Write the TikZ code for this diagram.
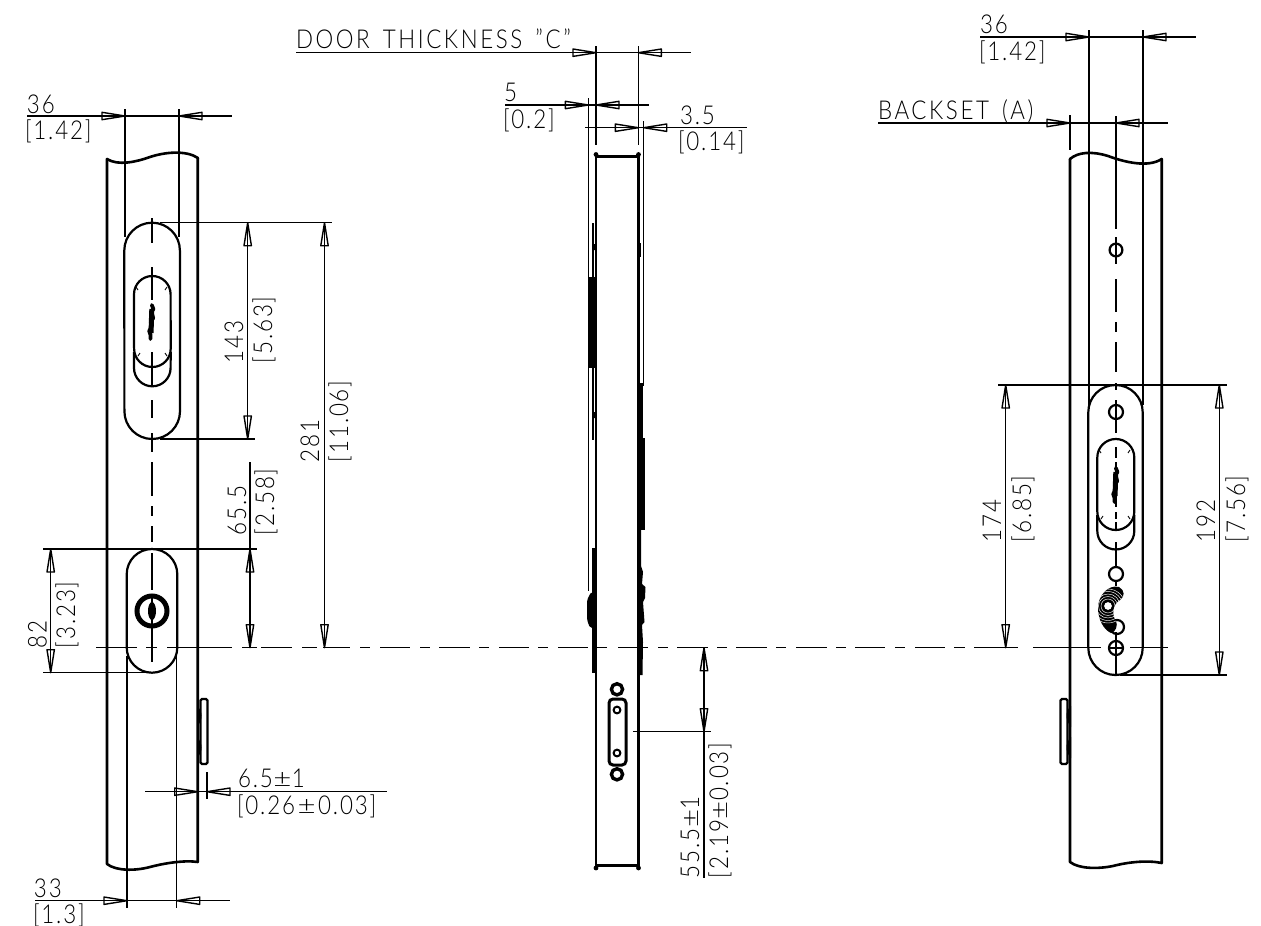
\documentclass[tikz,border=0pt]{standalone}
\usepackage{fontspec}
\usepackage{graphicx}
\newfontfamily\dimf[FakeStretch=0.86,LetterSpace=7]{Lato Light}
\newfontfamily\capf[FakeStretch=0.86,LetterSpace=10,WordSpace=1.5]{Lato Light}
\newcommand{\pmw}{\kern.5pt\scalebox{1.4}[1]{±}\kern.5pt}
\newcommand{\arrR}[2]{\draw[thinl,line join=round] (#1,#2) -- (#1-23,#2-3.7) -- (#1-23,#2+3.7) -- cycle;}
\newcommand{\arrL}[2]{\draw[thinl,line join=round] (#1,#2) -- (#1+23,#2-3.7) -- (#1+23,#2+3.7) -- cycle;}
\newcommand{\arrD}[2]{\draw[thinl,line join=round] (#1,#2) -- (#1-3.7,#2-23) -- (#1+3.7,#2-23) -- cycle;}
\newcommand{\arrU}[2]{\draw[thinl,line join=round] (#1,#2) -- (#1-3.7,#2+23) -- (#1+3.7,#2+23) -- cycle;}
% x left, x right, y top, y bottom, radius (stadium)
\newcommand{\stad}[6][slot]{\draw[#1] (#2,#4+#6) arc[start angle=180,end angle=360,radius=#6] -- (#3,#5-#6) arc[start angle=0,end angle=180,radius=#6] -- cycle;}
\newcommand{\logoblob}[2]{\draw[line width=3.8pt,line cap=round,line join=round] (#1+.8,#2+1) -- (#1+2.4,#2+5) -- (#1+.4,#2+8) -- (#1+2.2,#2+14) -- (#1-.2,#2+18) -- (#1+1,#2+22) -- (#1-1.8,#2+27) -- (#1-.4,#2+31) -- (#1-.6,#2+35);
 \draw[line width=5pt] (#1+.8,#2+5) -- (#1,#2+29);}
\tikzset{
  thinl/.style={line width=1.4pt,line cap=butt},
  slot/.style={line width=2.2pt},
  edge/.style={line width=2.6pt,line cap=round,line join=round},
  txt/.style={inner sep=0pt,outer sep=0pt,font=\dimf\fontsize{26}{26}\selectfont,anchor=base west},
  captxt/.style={txt,font=\capf\fontsize{26}{26}\selectfont},
  rtxt/.style={txt,rotate=90},
  tick/.style={line width=.9pt}
}
\begin{document}
\begin{tikzpicture}[x=1pt,y=-1pt]
\useasboundingbox (0,0) rectangle (1261,926);
%% horizontal centre line
\foreach \a/\b in {96/137,146/157,167/232,242/257,261/292,302/317,323/350,360/370,380/410,420/430,439/470,479/489,499/529,538/548,558/588,597/607,618/648,658/668,677/708,717/727,736/767,776/786,796/827,836/846,855/885,895/905,915/945,954/965,974/1018,1033/1101,1130/1168}
  \draw[thinl] (\a,647.7) -- (\b,647.7);
%%%% LEFT VIEW
\draw[edge] (107,159) .. controls (118,166) and (136,162) .. (150,157) .. controls (165,152) and (186,150) .. (198,158);
\draw[edge] (107,159) -- (107,864) .. controls (116,871) and (135,871) .. (150,867) .. controls (165,863) and (185,860) .. (197.7,862) -- (197.7,158);
\stad{124.3}{180}{222.7}{439}{27.8}
\stad[slot]{134}{170.7}{276}{367}{18.3}
\draw[slot] (134,352) -- (134,368) arc[start angle=180,end angle=0,radius=18.3] -- (170.7,352);
\foreach \a/\b/\c/\d in {136/287/138/290,167/287/165/290,138/356/140/353,167/356/165/353} \draw[tick] (\a,\b) -- (\c,\d);
\logoblob{151}{304}
\foreach \a/\b in {218/243,267/300,352/386,400/418,433/452,462/496,506/516,526/542,553/590,627/662}
  \draw[thinl] (152,\a) -- (152,\b);
\stad[slot]{126.7}{177.3}{549}{672.7}{25.3}
\draw[line width=5pt] (152,611) circle[radius=15];
\fill (152,611) ellipse[x radius=4,y radius=9];
\draw[thinl] (152,595) -- (152,627);
\draw[slot,rounded corners=1.5pt] (200.5,699) rectangle (207.5,764);
\fill (197,706) .. controls (203,711) and (203,720) .. (197,727) -- cycle;
\fill (197,737) .. controls (203,743) and (203,752) .. (197,758) -- cycle;
% dimensions left
\draw[thinl] (27,116) -- (232,116);
\draw[thinl] (125,109) -- (125,237) (179,109) -- (179,237);
\arrR{125}{116}\arrL{179}{116}
\node[txt] (a36) at (27,113) {36};
\node[txt] (a142) at (25,139) {[1.42]};
\draw[thinl] (160,222.7) -- (332,222.7) (160,439) -- (255,439);
\draw[thinl] (247.7,222.7) -- (247.7,439);
\arrU{247.7}{222.7}\arrD{247.7}{439}
\node[rtxt] (a143) at (243,363) {143};
\node[rtxt] (a563) at (272,363) {[5.63]};
\draw[thinl] (324.5,222.7) -- (324.5,647.7);
\arrU{324.5}{222.7}\arrD{324.5}{647.7}
\node[rtxt] (a281) at (319,462) {281};
\node[rtxt] (a1106) at (348,462) {[11.06]};
\draw[thinl] (250,462) -- (250,647.7);
\arrU{250}{549}\arrD{250}{647.7}
\node[rtxt] (a655) at (246,535) {65.5};
\node[rtxt] (a258) at (274,535) {[2.58]};
\draw[thinl] (43,549) -- (257,549) (43,672.7) -- (150,672.7);
\draw[thinl] (50.7,549) -- (50.7,672.7);
\arrU{50.7}{549}\arrD{50.7}{672.7}
\node[rtxt] (a82) at (46.7,648) {82};
\node[rtxt] (a323) at (75,648) {[3.23]};
\draw[thinl] (145,791.7) -- (387,791.7);
\draw[thinl] (207,772) -- (207,799);
\arrR{197.7}{791.7}\arrL{207}{791.7}
\node[txt] (a65) at (238,787) {6.5\pmw 1};
\node[txt] (a026) at (237,814) {[0.26\kern2pt\pmw\kern2pt 0.03]};
\draw[thinl] (35,900.7) -- (230,900.7);
\draw[thinl] (127,656) -- (127,908) (176.7,656) -- (176.7,908);
\arrR{127}{900.7}\arrL{176.7}{900.7}
\node[txt] (a33) at (34,897) {33};
\node[txt] (a13) at (33,923) {[1.3]};
%%%% MIDDLE VIEW
\draw[edge] (596,156) -- (596,866) (638.5,156) -- (638.5,866);
\draw[line width=3pt] (596,156) -- (638.5,156) (596,865) -- (638.5,865);
\fill (596,154.5) circle[radius=2.4] (638.5,154.5) circle[radius=2.4] (596,868) circle[radius=2.4] (638.5,868) circle[radius=2.4];
% left plates
\draw[thinl] (588.4,98) -- (588.4,591);
\draw[line width=2.2pt] (593.2,223) -- (593.2,278);
\fill (589.3,277) rectangle (596,368);
\draw[line width=2.2pt] (593.2,368) -- (593.2,440);
\fill (592,244) rectangle (596,250) (592,412) rectangle (596,418);
\draw[line width=3pt] (593.5,548) -- (593.5,673);
\fill[rounded corners=2pt] (587,600) -- (591,592) -- (594,592) -- (594,628) -- (590,628) -- (587,620) -- cycle;
% right plates
\draw[thinl] (643.7,121) -- (643.7,386);
\fill (638.5,243) rectangle (641,257);
\fill (638.5,383) rectangle (642.8,438);
\fill (638.5,438) rectangle (644.5,530);
\fill (638.5,530) -- (641,530) -- (641,566) -- (643,572) -- (642,584) -- (645.5,587) -- (645,598) -- (643,602) -- (644.5,622) -- (642,625) -- (643,642) -- (642.5,675) -- (638.5,675) -- cycle;
% strike
\draw[line width=3.4pt] (617,689.3) circle[radius=5.6] (617,774.3) circle[radius=5.6];
\draw[line width=3pt,rounded corners=4pt] (609,699) rectangle (626,765);
\draw[line width=2pt] (617,710) circle[radius=3.4] (617,753) circle[radius=3.4];
% dimensions middle
\draw[thinl] (296,52.7) -- (691,52.7);
\draw[thinl] (596,46) -- (596,145) (638.3,46) -- (638.3,145);
\arrR{596}{52.7}\arrL{638.3}{52.7}
\node[captxt] (m1) at (296,48) {DOOR THICKNESS ”C”};
\draw[thinl] (505,105) -- (649,105);
\arrR{588.4}{105}\arrL{596}{105}
\node[txt] (m5) at (504,101) {5};
\node[txt] (m02) at (503,128) {[0.2]};
\draw[thinl] (585,127.7) -- (747,127.7);
\arrR{638.3}{127.7}\arrL{643.7}{127.7}
\node[txt] (m35) at (680,124) {3.5};
\node[txt] (m014) at (678,150) {[0.14]};
\draw[thinl] (633,731.7) -- (711,731.7);
\draw[thinl] (704,647.7) -- (704,878);
\arrU{704}{647.7}\arrD{704}{731.7}
\node[rtxt] (m555) at (699,878) {55.5\pmw 1};
\node[rtxt] (m219) at (728,878) {[2.19\pmw 0.03]};
%%%% RIGHT VIEW
\draw[edge] (1070,159) .. controls (1078,152) and (1092,151) .. (1108,156) .. controls (1124,162) and (1148,168) .. (1161.7,159);
\draw[edge] (1070,159) -- (1070,862) .. controls (1079,869) and (1098,869) .. (1113,866) .. controls (1128,862) and (1148,860) .. (1161.7,863) -- (1161.7,159);
\stad{1088.3}{1142.7}{385}{675}{27.2}
\stad[slot]{1097.3}{1134.3}{439}{530}{18.5}
\draw[slot] (1097.3,515) -- (1097.3,531) arc[start angle=180,end angle=0,radius=18.5] -- (1134.3,515);
\foreach \a/\b/\c/\d in {1099/450/1101/453,1130/450/1128/453,1101/519/1103/516,1130/519/1128/516} \draw[tick] (\a,\b) -- (\c,\d);
\logoblob{1115}{467}
\foreach \a/\b in {116/229,237/264,279/312,322/332,342/372,383/390,400/433,447/458,462/507,512/519,522/530,542/567,581/586,632/675}
  \draw[thinl] (1116,\a) -- (1116,\b);
\draw[slot] (1116,250) circle[radius=6.4] (1116,412) circle[radius=7] (1116,574) circle[radius=7] (1116,648) circle[radius=7];
\draw[thinl] (1109,648) -- (1123,648);
\draw[slot] (1117,627) circle[radius=7];
\begin{scope}
\clip (1119,587) .. controls (1125,590) and (1125,597) .. (1120,600) .. controls (1113,604) and (1111,614) .. (1116,621) .. controls (1118,625) and (1116,632) .. (1111,633) .. controls (1104,630) and (1098,620) .. (1098,608) .. controls (1098,596) and (1108,584) .. (1119,587) -- cycle;
\fill (1090,580) rectangle (1130,640);
\foreach \r in {7,9.5,12,14.5,17} \draw[white,line width=.45pt] (1108,606) circle[radius=\r];
\end{scope}
\fill[white] (1108,606) circle[radius=4.2];
\draw[line width=1pt] (1108,606) circle[radius=4.6];
\draw[slot,rounded corners=1.5pt] (1060.5,699) rectangle (1067.5,764);
\fill (1071,706) .. controls (1065,711) and (1065,720) .. (1071,727) -- cycle;
\fill (1071,737) .. controls (1065,743) and (1065,752) .. (1071,758) -- cycle;
% dimensions right
\draw[thinl] (980,37) -- (1196,37);
\draw[thinl] (1089,30) -- (1089,405) (1143,30) -- (1143,405);
\arrR{1089}{37}\arrL{1143}{37}
\node[txt] (r36) at (980,33) {36};
\node[txt] (r142) at (979,60) {[1.42]};
\draw[thinl] (878,123) -- (1168,123);
\draw[thinl] (1070,115) -- (1070,150);
\arrR{1070}{123}\arrL{1116}{123}
\node[captxt] (r1) at (878,119) {BACKSET (A)};
\draw[thinl] (998,385) -- (1227,385) (1120,675) -- (1227,675);
\draw[thinl] (1005.7,385) -- (1005.7,647.7) (1219.3,385) -- (1219.3,675);
\arrU{1005.7}{385}\arrD{1005.7}{647.7}
\arrU{1219.3}{385}\arrD{1219.3}{675}
\node[rtxt] (r174) at (1001,542) {174};
\node[rtxt] (r685) at (1031,542) {[6.85]};
\node[rtxt] (r192) at (1215,542) {192};
\node[rtxt] (r756) at (1245,542) {[7.56]};
\end{tikzpicture}
\end{document}
